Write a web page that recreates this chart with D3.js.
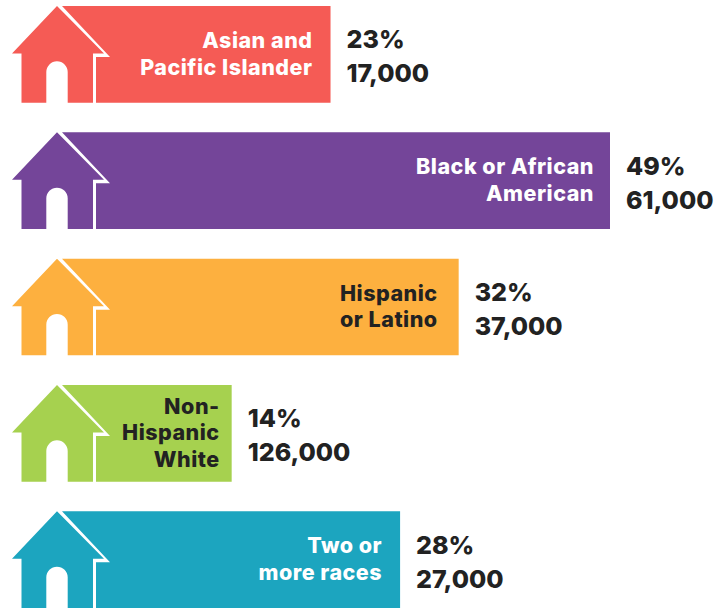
<!DOCTYPE html>
<html><head><meta charset="utf-8">
<script src="https://cdn.jsdelivr.net/npm/d3@7"></script>
<style>html,body{margin:0;background:#fff}svg{display:block}</style></head>
<body><svg id="c" width="722" height="608"></svg>
<script>
const categories = ["Asian and|Pacific Islander","Black or African|American","Hispanic|or Latino","Non-|Hispanic|White","Two or|more races"];
const percentLabels = ["23%","49%","32%","14%","28%"];
const countLabels = ["17,000","61,000","37,000","126,000","27,000"];
// Bar lengths as drawn in the picture, in percent-like units (not proportional to the labels)
const barLengths = [26.1,49,36.6,18,31.8];
const colors = ["#f55b55","#744599","#fdb03f","#a6d14f","#1ca5bf"];
const labelColors = ["#fff","#fff","#222","#222","#fff"];

const F = "Inter, 'Noto Sans', sans-serif";
const labelInsets = [18,16,21,12,18];
const svg = d3.select("#c");
const x = d3.scaleLinear().domain([0,49]).range([12,610]);
const y = d3.scaleBand().domain(d3.range(categories.length)).range([6,608]).paddingInner(0.235).paddingOuter(0);

const rows = svg.selectAll("g.row").data(categories).join("g").attr("class","row")
  .attr("transform",(d,i)=>`translate(0,${y(i)})`);
const h = y.bandwidth();

rows.append("path").attr("fill",(d,i)=>colors[i])
  .attr("d",(d,i)=>`M62,0H${x(barLengths[i])}V${h}H96V51H110Z`);

rows.append("path").attr("fill",(d,i)=>colors[i])
  .attr("d",`M57,0L104,47.5H93V${h}H67.7V66A10.7,10.7 0 0 0 46.3,66V${h}H21.5V47.5H12Z`);

rows.append("text").attr("text-anchor","end").attr("font-family",F).attr("font-weight",800)
  .attr("font-size",21.5).attr("letter-spacing",0.5).attr("fill",(d,i)=>labelColors[i])
  .each(function(d,i){
    const lines=d.split("|");
    const t=d3.select(this);
    const top=h/2-(lines.length-1)*13.4+7;
    lines.forEach((l,j)=>t.append("tspan").attr("x",x(barLengths[i])-labelInsets[i]).attr("y",top+j*26.8).text(l));
  });
rows.append("text").attr("font-family",F).attr("font-weight",800).attr("font-size",25).attr("fill","#222")
  .attr("x",(d,i)=>x(barLengths[i])+16).attr("y",h/2-6).text((d,i)=>percentLabels[i]);
rows.append("text").attr("font-family",F).attr("font-weight",800).attr("font-size",25).attr("fill","#222")
  .attr("x",(d,i)=>x(barLengths[i])+16).attr("y",h/2+28).text((d,i)=>countLabels[i]);
</script></body></html>
